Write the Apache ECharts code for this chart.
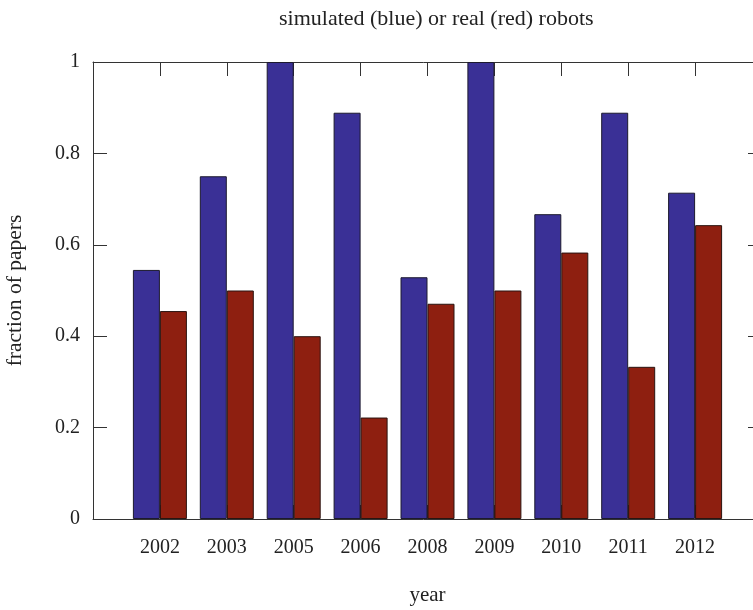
<!DOCTYPE html>
<html>
<head>
<meta charset="utf-8">
<script src="https://cdn.jsdelivr.net/npm/echarts@6/dist/echarts.min.js"></script>
<style>
  html, body { margin: 0; padding: 0; background: #fff; }
  #chart { width: 753px; height: 610px; }
</style>
</head>
<body>
<div id="chart"></div>
<script>
// Years with published papers
const years = ['2002', '2003', '2005', '2006', '2008', '2009', '2010', '2011', '2012'];
// Fraction of papers using simulated robots
const simulated = [0.545, 0.75, 1.0, 0.889, 0.529, 1.0, 0.667, 0.889, 0.714];
// Fraction of papers using real robots
const real = [0.455, 0.5, 0.4, 0.222, 0.471, 0.5, 0.583, 0.333, 0.643];
// Y tick labels
const yTicks = ['0', '0.2', '0.4', '0.6', '0.8', '1'];

const FONT = 'Liberation Serif';
const INK = '#222';

const chart = echarts.init(document.getElementById('chart'), null, { renderer: 'canvas' });

const tickStyle = { show: true, inside: true, length: 14, lineStyle: { color: '#333', width: 1 } };
const lineStyle = { show: true, onZero: false, lineStyle: { color: '#333', width: 1 } };

const xLabel = v => (Number.isInteger(v) && v >= 0 && v < years.length) ? years[v] : '';

chart.setOption({
  animation: false,
  title: {
    text: 'simulated (blue) or real (red) robots',
    left: 274,
    top: 3,
    textStyle: { fontFamily: FONT, fontSize: 22, fontWeight: 'normal', color: INK }
  },
  grid: {
    left: 93, right: -9, top: 62, bottom: 91,
    containLabel: false, outerBoundsMode: 'none'
  },
  xAxis: [
    {
      type: 'value', position: 'bottom', min: -1, max: 9, interval: 1,
      axisLine: lineStyle, axisTick: tickStyle, splitLine: { show: false },
      axisLabel: { formatter: xLabel, margin: 19, fontFamily: FONT, fontSize: 20, color: INK },
      name: 'year', nameLocation: 'middle', nameGap: 66,
      nameTextStyle: { fontFamily: FONT, fontSize: 21, color: INK }
    },
    {
      type: 'value', position: 'top', min: -1, max: 9, interval: 1,
      axisLine: lineStyle, axisTick: tickStyle, splitLine: { show: false },
      axisLabel: { show: false }
    }
  ],
  yAxis: [
    {
      type: 'value', position: 'left', min: 0, max: 1, interval: 0.2,
      axisLine: lineStyle, axisTick: tickStyle, splitLine: { show: false },
      axisLabel: {
        formatter: v => yTicks[Math.round(v * 5)],
        margin: 13, fontFamily: FONT, fontSize: 20, color: INK
      },
      name: 'fraction of papers', nameLocation: 'middle', nameGap: 67, nameRotate: 90,
      nameTextStyle: { fontFamily: FONT, fontSize: 21.5, color: INK }
    },
    {
      type: 'value', position: 'right', min: 0, max: 1, interval: 0.2,
      axisLine: lineStyle, axisTick: tickStyle, splitLine: { show: false },
      axisLabel: { show: false }
    }
  ],
  series: [
    {
      name: 'simulated', type: 'bar', xAxisIndex: 0, yAxisIndex: 0,
      barWidth: 27, barGap: '0%',
      itemStyle: { color: '#3a3096', borderColor: '#1c1a2e', borderWidth: 1 },
      data: simulated.map((v, i) => [i, v])
    },
    {
      name: 'real', type: 'bar', xAxisIndex: 0, yAxisIndex: 0,
      barWidth: 27, barGap: '0%',
      itemStyle: { color: '#8e1f10', borderColor: '#2a1410', borderWidth: 1 },
      data: real.map((v, i) => [i, v])
    }
  ]
});
</script>
</body>
</html>
